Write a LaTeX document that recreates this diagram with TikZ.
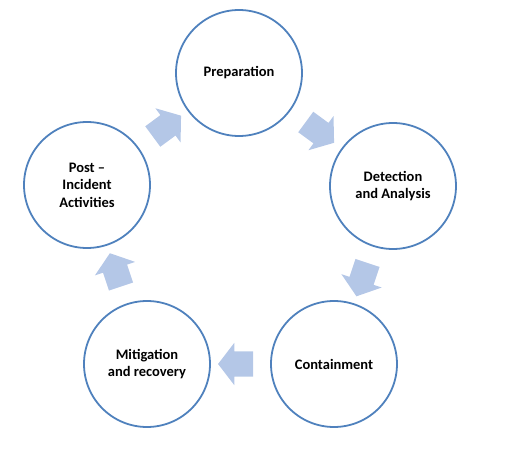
\documentclass[tikz,border=0pt]{standalone}
\usepackage{fontspec}
\setmainfont{Carlito}
\usetikzlibrary{shapes.arrows,calc}
\definecolor{ringblue}{HTML}{4F81BD}
\definecolor{flowblue}{HTML}{B4C7E7}

\begin{document}
\begin{tikzpicture}[x=1pt, y=1pt,
  stage/.style={circle, draw=ringblue, line width=1.8pt, minimum size=126pt, inner sep=0pt, align=center, font=\bfseries\fontsize{14.5}{17.5}\selectfont},
  flow/.style={single arrow, fill=flowblue, draw=none, minimum height=34pt, inner sep=12.5pt, single arrow head extend=8.5pt, single arrow tip angle=105}]
\useasboundingbox (0,0) rectangle (515,464);
% the five stages
\node[stage] (prep) at (239,391) {Preparation};
\node[stage] (detect) at (393,278) {Detection\\and Analysis};
\node[stage] (contain) at (334,100) {Containment};
\node[stage] (mitig) at (147,100) {Mitigation\\and recovery};
\node[stage] (post) at (87,279) {Post --\\Incident\\Activities};
% block arrows between them
\node[flow, rotate=36.4] (f1) at ($(post)!0.5!(prep)$) {};
\node[flow, rotate=-36.3] (f2) at ($(prep)!0.5!(detect)$) {};
\node[flow, rotate=-108.3] (f3) at ($(detect)!0.5!(contain)$) {};
\node[flow, rotate=180] (f4) at ($(contain)!0.5!(mitig)$) {};
\node[flow, rotate=108.5] (f5) at ($(mitig)!0.5!(post)$) {};
\end{tikzpicture}
\end{document}
